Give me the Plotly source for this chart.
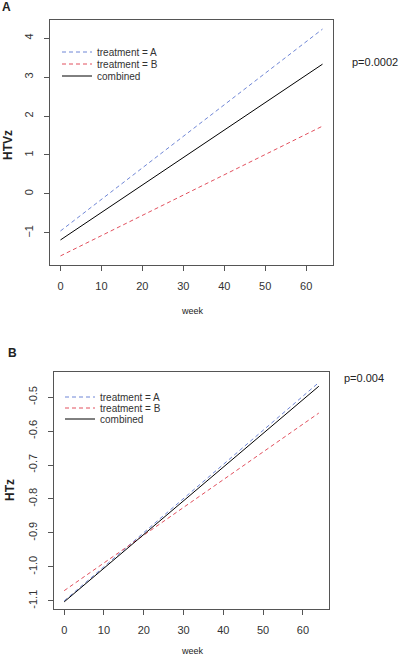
import plotly.graph_objects as go

# ---- data ----
weeks = [0, 64]
# panel A (HTVz)
a_trtA = [-0.95, 4.23]
a_trtB = [-1.59, 1.74]
a_comb = [-1.18, 3.33]
# panel B (HTz)
b_trtA = [-1.100, -0.457]
b_trtB = [-1.070, -0.547]
b_comb = [-1.103, -0.468]

names = ["treatment = A", "treatment = B", "combined"]
colors = ["#6f86d6", "#e2505e", "#000000"]
dashes = ["4px,3px", "4px,3px", "solid"]

W, H = 400, 656
fig = go.Figure()

legfont = dict(family="Liberation Sans, Arial", size=10, color="#333333")
leg_layout = {}
# one legend per entry so rows can sit as tightly as in the reference
rowsA = [52, 64, 76]
rowsB = [397, 408, 419]
k = 1
for i, ys in enumerate([a_trtA, a_trtB, a_comb]):
    lname = "legend" if k == 1 else f"legend{k}"
    fig.add_trace(go.Scatter(x=weeks, y=ys, mode="lines", name=names[i],
                             line=dict(color=colors[i], width=1, dash=dashes[i]),
                             xaxis="x", yaxis="y", legend=lname))
    leg_layout[lname] = dict(x=57/W, y=1-rowsA[i]/H, xanchor="left", yanchor="middle",
                             bgcolor="rgba(0,0,0,0)", font=legfont, itemwidth=30)
    k += 1
for i, ys in enumerate([b_trtA, b_trtB, b_comb]):
    lname = f"legend{k}"
    fig.add_trace(go.Scatter(x=weeks, y=ys, mode="lines", name=names[i],
                             line=dict(color=colors[i], width=1, dash=dashes[i]),
                             xaxis="x2", yaxis="y2", legend=lname))
    leg_layout[lname] = dict(x=60/W, y=1-rowsB[i]/H, xanchor="left", yanchor="middle",
                             bgcolor="rgba(0,0,0,0)", font=legfont, itemwidth=30)
    k += 1

tickfont = dict(family="Liberation Sans, Arial", size=11, color="#333333")
axcommon = dict(showline=True, mirror=True, linecolor="#555555", linewidth=1,
                ticks="outside", ticklen=5, tickcolor="#555555", showgrid=False,
                zeroline=False, tickfont=tickfont)

fig.update_layout(
    width=W, height=H, margin=dict(l=0, r=0, t=0, b=0),
    paper_bgcolor="white", plot_bgcolor="white",
    xaxis=dict(domain=[50/W, 333/W], range=[-2.56, 66.56], tickvals=[0, 10, 20, 30, 40, 50, 60],
               anchor="y", ticklabelstandoff=6, **axcommon),
    yaxis=dict(domain=[1-265/H, 1-20/H], range=[-1.823, 4.463], tickvals=[-1, 0, 1, 2, 3, 4],
               anchor="x", tickangle=-90, ticklabelstandoff=7, **axcommon),
    xaxis2=dict(domain=[54/W, 329/W], range=[-2.56, 66.56], tickvals=[0, 10, 20, 30, 40, 50, 60],
                anchor="y2", ticklabelstandoff=6, **axcommon),
    yaxis2=dict(domain=[1-609/H, 1-372/H], range=[-1.124, -0.426],
                tickvals=[-1.1, -1.0, -0.9, -0.8, -0.7, -0.6, -0.5],
                ticktext=["-1.1", "-1.0", "-0.9", "-0.8", "-0.7", "-0.6", "-0.5"],
                anchor="x2", tickangle=-90, ticklabelstandoff=7, **axcommon),
    showlegend=True,
    **leg_layout,
)

ann_font = dict(family="Liberation Sans, Arial", color="#222222")
anns = [
    dict(text="<b>A</b>", x=6/W, y=1-7/H, xanchor="center", yanchor="middle", font=dict(size=12, **ann_font)),
    dict(text="<b>B</b>", x=12/W, y=1-353/H, xanchor="center", yanchor="middle", font=dict(size=12, **ann_font)),
    dict(text="<b>HTVz</b>", x=8/W, y=1-145/H, textangle=-90, xanchor="center", yanchor="middle", font=dict(size=12, **ann_font)),
    dict(text="<b>HTz</b>", x=10/W, y=1-490/H, textangle=-90, xanchor="center", yanchor="middle", font=dict(size=12, **ann_font)),
    dict(text="week", x=192/W, y=1-311/H, xanchor="center", yanchor="middle", font=dict(size=9, **ann_font)),
    dict(text="week", x=192/W, y=1-651/H, xanchor="center", yanchor="middle", font=dict(size=9, **ann_font)),
    dict(text="p=0.0002", x=400/W, y=1-62/H, xanchor="right", yanchor="middle", font=dict(size=11, **ann_font)),
    dict(text="p=0.004", x=342/W, y=1-378/H, xanchor="left", yanchor="middle", font=dict(size=11, **ann_font)),
]
for a in anns:
    a.update(xref="paper", yref="paper", showarrow=False)
fig.update_layout(annotations=anns)

fig.write_html("out.html", config={"displayModeBar": False},
               post_script="document.body.style.margin='0';")
